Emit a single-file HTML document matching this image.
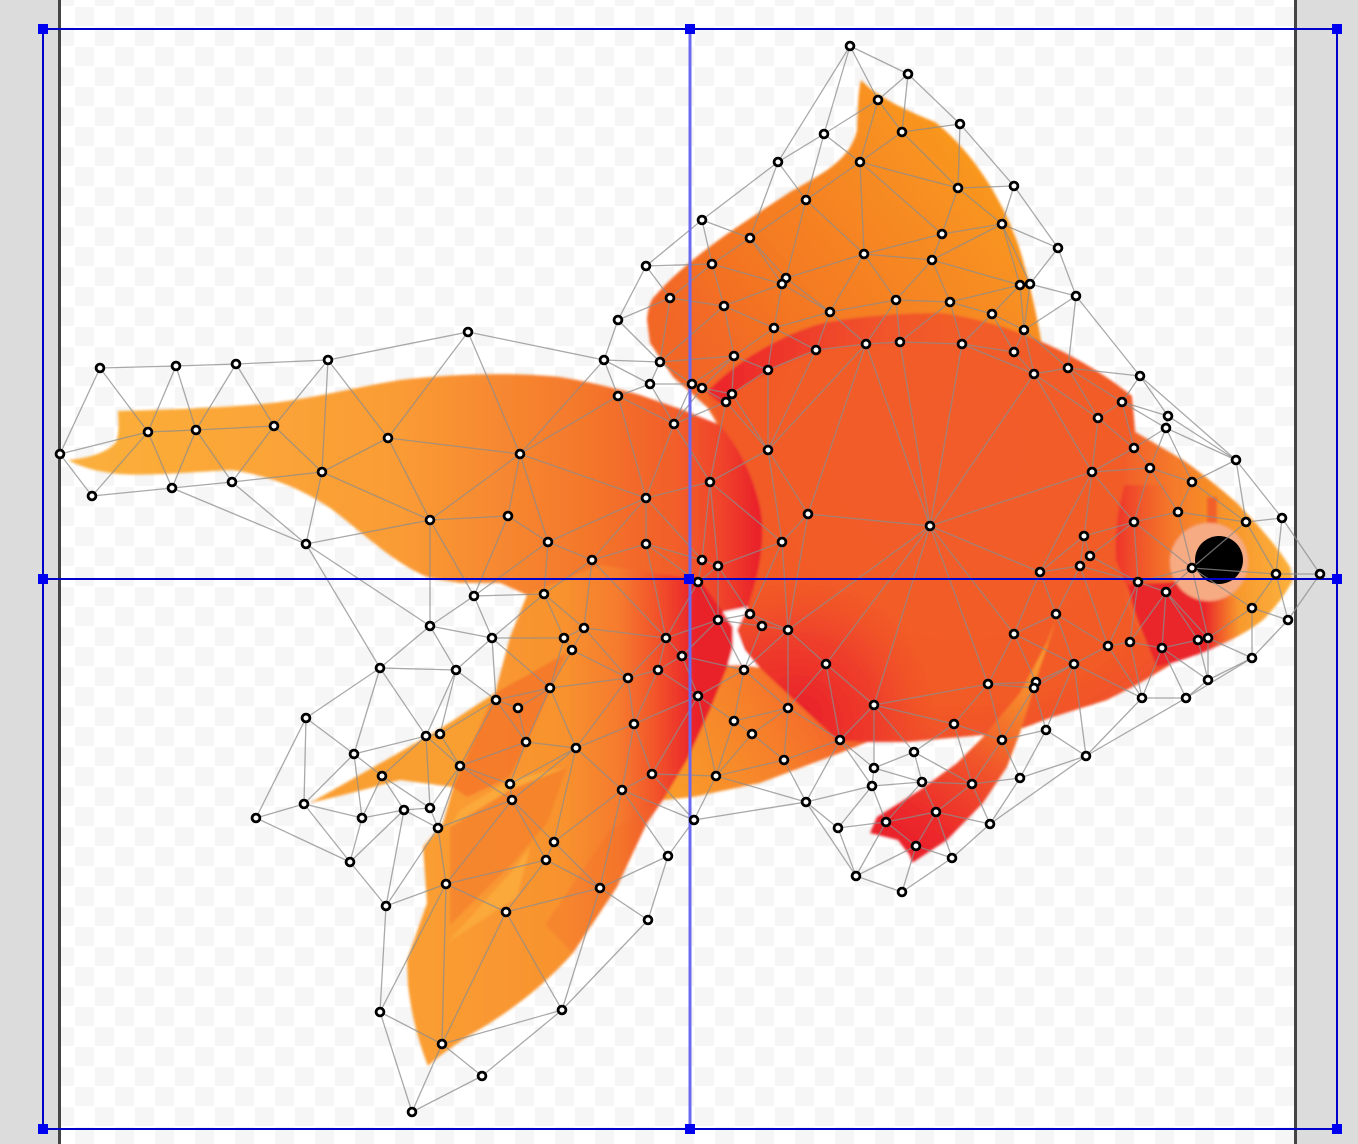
<!DOCTYPE html>
<html>
<head>
<meta charset="utf-8">
<title>Goldfish mesh</title>
<style>
html,body{margin:0;padding:0;background:#dcdcdc;width:1358px;height:1144px;overflow:hidden}
svg{display:block}
</style>
</head>
<body>
<svg id="stage" xmlns="http://www.w3.org/2000/svg" width="1358" height="1144" viewBox="0 0 1358 1144">
<defs>
<pattern id="chk" x="75" y="7" width="40" height="40" patternUnits="userSpaceOnUse">
<rect width="40" height="40" fill="#ffffff"/>
<rect x="0" y="0" width="19" height="19" fill="#f6f6f6"/>
<rect x="20" y="20" width="19" height="19" fill="#f6f6f6"/>
</pattern>
<linearGradient id="tailG" gradientUnits="userSpaceOnUse" x1="100" y1="0" x2="760" y2="0">
<stop offset="0" stop-color="#fbae3a"/><stop offset=".45" stop-color="#fa9c35"/><stop offset=".73" stop-color="#f4782c"/><stop offset=".88" stop-color="#f25c2b"/><stop offset=".94" stop-color="#f0442c"/><stop offset="1" stop-color="#e92029"/>
</linearGradient>
<linearGradient id="topG" gradientUnits="userSpaceOnUse" x1="700" y1="350" x2="960" y2="130">
<stop offset="0" stop-color="#f26626"/><stop offset=".35" stop-color="#f47a22"/><stop offset="1" stop-color="#f9981f"/>
</linearGradient>
<linearGradient id="finG" gradientUnits="userSpaceOnUse" x1="430" y1="0" x2="697" y2="0">
<stop offset="0" stop-color="#fa9d33"/><stop offset=".5" stop-color="#f8922e"/><stop offset=".71" stop-color="#f57a2d"/><stop offset=".85" stop-color="#f2522c"/><stop offset="1" stop-color="#e9202b"/>
</linearGradient>
<linearGradient id="bellyG" gradientUnits="userSpaceOnUse" x1="680" y1="790" x2="860" y2="690">
<stop offset="0" stop-color="#f99a2a"/><stop offset=".5" stop-color="#f67f2a"/><stop offset="1" stop-color="#f2582a"/>
</linearGradient>
<radialGradient id="bodyG" gradientUnits="userSpaceOnUse" cx="960" cy="450" r="340">
<stop offset="0" stop-color="#f25c29"/><stop offset=".75" stop-color="#f25a28"/><stop offset="1" stop-color="#f0452a"/>
</radialGradient>
<linearGradient id="crescentG" gradientUnits="userSpaceOnUse" x1="710" y1="0" x2="960" y2="0">
<stop offset="0" stop-color="#ec242b"/><stop offset=".35" stop-color="#ee3a2b"/><stop offset="1" stop-color="#f15a2a" stop-opacity="0"/>
</linearGradient>
<radialGradient id="bellyRedG" gradientUnits="userSpaceOnUse" cx="800" cy="715" r="135">
<stop offset="0" stop-color="#e9202a"/><stop offset=".55" stop-color="#ec2a2a" stop-opacity=".6"/><stop offset="1" stop-color="#f0402a" stop-opacity="0"/>
</radialGradient>
<linearGradient id="headG" gradientUnits="userSpaceOnUse" x1="1125" y1="0" x2="1290" y2="0">
<stop offset="0" stop-color="#f2602a"/><stop offset=".55" stop-color="#f79028"/><stop offset="1" stop-color="#fbb03b"/>
</linearGradient>
<linearGradient id="gillG" gradientUnits="userSpaceOnUse" x1="1115" y1="0" x2="1172" y2="0">
<stop offset="0" stop-color="#ee332b"/><stop offset="1" stop-color="#f2602a" stop-opacity="0"/>
</linearGradient>
<linearGradient id="gillLowG" gradientUnits="userSpaceOnUse" x1="1205" y1="0" x2="1240" y2="0">
<stop offset="0" stop-color="#ea262b"/><stop offset="1" stop-color="#ee402b" stop-opacity="0"/>
</linearGradient>
<linearGradient id="pecG" gradientUnits="userSpaceOnUse" x1="1050" y1="640" x2="905" y2="850">
<stop offset="0" stop-color="#fba432"/><stop offset=".3" stop-color="#f5802c"/><stop offset=".55" stop-color="#f1552a"/><stop offset=".85" stop-color="#ec2a2c"/><stop offset="1" stop-color="#ea202c"/>
</linearGradient>
<filter id="soft" x="-5%" y="-5%" width="110%" height="110%"><feGaussianBlur stdDeviation="1.2"/></filter>
<clipPath id="bodyClip"><path d="M707 392 C735 362 780 335 823 323 C860 316 900 313 940 313 C1000 320 1075 350 1132 396 L1136 440 L1180 470 L1170 665 L1140 683 L1107 700 L1053 717 L1023 728 L983 735 L907 742 L863 742 L837 740 L762 670 L745 650 L737 630 L748 607 L753 590 C762 560 765 530 760 507 C755 485 745 455 720 425 Z"/></clipPath>
</defs>

<rect width="1358" height="1144" fill="#dcdcdc"/>
<rect x="60" y="0" width="1235" height="1144" fill="url(#chk)"/>
<rect x="58" y="0" width="3" height="1144" fill="#444444"/>
<rect x="1294" y="0" width="3" height="1144" fill="#444444"/>

<g filter="url(#soft)">
<path fill="url(#topG)" d="M718 425 L707 407 L673 377 L650 343 L647 320 C648 308 650 303 653 298 C690 255 745 222 790 192 C825 172 850 160 857 130 C858 108 858 92 861 80 C875 95 900 108 935 122 C965 145 1000 190 1020 250 C1032 290 1040 330 1044 360 L820 440 Z"/>
<path fill="url(#tailG)" d="M68 460 C90 458 108 452 116 442 C120 432 118 420 118 411 C160 410 210 408 250 405 C300 402 350 388 400 380 C450 374 510 372 560 377 C590 382 615 388 640 395 L683 410 L720 425 L790 430 L790 600 L748 607 L723 612 L640 610 L527 595 L500 583 L460 583 L430 578 C395 565 360 530 330 508 C300 488 270 476 232 470 C190 472 130 478 105 472 C90 470 78 465 68 460 Z"/>
<path fill="url(#bellyG)" d="M663 800 L693 797 L760 783 L840 753 L870 741 L840 690 L762 668 L728 663 L690 740 Z"/>
<path fill="#f99f33" d="M310 803 L400 752 L443 727 L495 693 L470 790 L453 787 L400 780 C370 788 340 796 310 803 Z"/>
<path fill="url(#finG)" d="M527 595 L510 637 L495 693 L453 787 L443 823 L423 847 L427 903 L407 960 L408 985 C412 1020 420 1045 428 1066 C440 1055 455 1045 470 1035 C505 1015 540 990 573 953 L617 887 L647 823 L663 800 L687 760 L710 710 L728 665 L733 647 L733 627 L723 612 L700 580 L600 565 Z"/>
<path fill="#f4762c" opacity=".85" d="M495 693 L567 653 L547 697 L527 743 L510 777 L467 797 L453 787 Z"/>
<path fill="#f4792c" opacity=".6" d="M510 790 L567 767 L547 823 L513 863 L450 925 L450 827 Z"/>
<path fill="#fba93a" d="M460 810 L510 780 L567 767 L510 790 L450 827 Z"/>
<path fill="#fba93a" d="M447 943 L513 870 L530 847 L517 897 Z"/>
<path fill="#f16a2c" opacity=".3" d="M573 953 L617 887 L647 823 L663 800 L610 830 L545 925 Z"/>
<path fill="#ffffff" d="M723 612 L748 607 L737 630 L743 650 L753 665 L728 665 L733 647 L733 627 Z"/>
<path fill="url(#bodyG)" d="M707 392 C735 362 780 335 823 323 C860 316 900 313 940 313 C1000 320 1075 350 1132 396 L1136 440 L1180 470 L1170 665 L1140 683 L1107 700 L1053 717 L1023 728 L983 735 L907 742 L863 742 L837 740 L762 670 L745 650 L737 630 L748 607 L753 590 C762 560 765 530 760 507 C755 485 745 455 720 425 Z"/>
<path fill="url(#crescentG)" d="M707 392 C735 362 780 335 823 323 C860 316 900 313 960 314 L960 347 C900 342 860 343 823 350 C790 356 750 380 720 403 Z"/>
<rect x="620" y="530" width="360" height="340" fill="url(#bellyRedG)" clip-path="url(#bodyClip)"/>
<path fill="url(#headG)" d="M1132 430 L1183 460 C1200 472 1220 488 1237 503 C1258 525 1278 547 1290 567 L1293 580 C1285 595 1275 608 1263 620 C1250 630 1238 637 1223 643 C1200 652 1180 660 1157 667 L1125 600 L1125 470 Z"/>
<path fill="url(#gillG)" d="M1116 560 C1115 530 1118 505 1125 485 L1172 485 L1172 600 L1128 590 Z"/>
<path fill="url(#gillLowG)" d="M1128 585 L1200 580 L1240 600 L1240 636 C1212 650 1185 660 1157 667 C1145 640 1132 610 1128 585 Z"/>
<path fill="#f0552a" opacity=".8" d="M1207 497 L1217 497 L1217 523 L1207 523 Z"/>
<path fill="url(#pecG)" d="M1057 617 L1040 667 L1020 733 L1007 767 L983 803 L947 840 L912 863 C910 855 908 852 907 852 L898 840 L870 833 L877 817 L920 790 L957 763 L983 737 L1020 693 L1047 643 Z"/>
<circle cx="1209" cy="562" r="39" fill="#f7ab82"/>
</g>
<circle cx="1219" cy="560" r="24" fill="#000000"/>

<g id="meshEdges" fill="none" stroke="#8c8c8c" stroke-opacity=".75" stroke-width="1.3"></g>

<g>
<line x1="43" y1="29" x2="1337" y2="29" stroke="#0000cc" stroke-width="2"/>
<line x1="43" y1="1129" x2="1337" y2="1129" stroke="#0000cc" stroke-width="2"/>
<line x1="43" y1="29" x2="43" y2="1129" stroke="#0000cc" stroke-width="2"/>
<line x1="1337" y1="29" x2="1337" y2="1129" stroke="#0000cc" stroke-width="2"/>
<line x1="43" y1="579" x2="1337" y2="579" stroke="#0000cc" stroke-width="2"/>
<line x1="690" y1="29" x2="690" y2="1129" stroke="#6a6af0" stroke-width="3"/>
</g>

<g id="meshNodes"></g>

<g fill="#0000f0">
<rect x="38" y="24" width="10" height="10"/>
<rect x="685" y="24" width="10" height="10"/>
<rect x="1332" y="24" width="10" height="10"/>
<rect x="38" y="574" width="10" height="10"/>
<rect x="684" y="574" width="10" height="10"/>
<rect x="1332" y="574" width="10" height="10"/>
<rect x="38" y="1124" width="10" height="10"/>
<rect x="685" y="1124" width="10" height="10"/>
<rect x="1332" y="1124" width="10" height="10"/>
</g>
</svg>

<script>
var nodesX = [850,908,878,960,902,824,860,778,1014,958,806,702,1002,942,750,1058,864,932,712,646,786,782,1020,1030,670,1076,896,950,724,830,992,618,774,1024,866,900,962,816,1014,734,468,328,236,176,100,604,660,768,1068,1034,1140,650,692,702,732,726,618,1122,1098,1168,1166,674,148,196,274,388,1134,768,60,520,1150,1236,322,1092,710,1192,172,232,92,646,1178,808,430,508,1134,1246,1282,930,1084,548,646,782,306,1090,592,702,718,1080,1040,1192,1276,1320,1138,698,474,544,1166,1252,1288,1056,718,750,762,788,430,584,564,492,666,1014,1198,1208,1130,1108,1162,572,682,658,456,380,744,826,1252,1074,628,550,1208,988,1036,1034,496,698,1186,1142,518,306,788,874,634,734,954,426,440,752,1046,526,576,840,1002,354,914,1086,784,460,652,382,716,874,922,972,1020,510,622,872,304,512,806,404,430,362,256,936,694,886,838,990,438,554,916,668,546,350,952,856,446,600,902,386,506,648,380,562,442,482,412];
var nodesY = [46,74,100,124,132,134,162,162,186,188,200,220,224,234,238,248,254,260,264,266,278,284,285,284,298,296,300,302,306,312,314,320,328,330,344,342,344,350,352,356,332,360,364,366,368,360,362,370,368,374,376,384,384,388,394,402,396,402,418,416,428,424,432,430,426,438,448,450,454,454,468,460,472,472,482,482,488,482,496,498,512,514,520,516,522,522,518,526,536,542,544,542,544,556,560,560,566,566,572,568,574,574,582,582,596,594,592,608,620,614,620,614,626,630,626,628,638,638,638,634,640,638,642,646,648,650,656,670,670,668,670,664,658,664,678,688,680,684,682,688,700,696,698,698,708,718,708,705,724,721,724,736,734,734,730,742,748,740,740,754,752,756,760,766,774,776,776,768,782,784,778,784,790,786,804,800,802,810,808,818,818,812,820,822,828,824,828,842,846,856,860,862,858,876,884,888,892,906,912,920,1012,1010,1044,1076,1112];
var maxBoundaryEdge = 148;

var edgeLayer = document.getElementById('meshEdges');
var nodeLayer = document.getElementById('meshNodes');
var SVGNS = 'http://www.w3.org/2000/svg';

function triangulate(xs, ys) {
  var pts = [];
  for (var i = 0; i < xs.length; i++) pts.push([xs[i], ys[i]]);
  var n = pts.length;
  pts.push([-20000, -20000], [20000, -20000], [0, 20000]);
  var tris = [[n, n + 1, n + 2]];
  function inCircle(t, p) {
    var a = pts[t[0]], b = pts[t[1]], c = pts[t[2]];
    var d = 2 * (a[0] * (b[1] - c[1]) + b[0] * (c[1] - a[1]) + c[0] * (a[1] - b[1]));
    if (d === 0) return false;
    var A = a[0] * a[0] + a[1] * a[1], B = b[0] * b[0] + b[1] * b[1], C = c[0] * c[0] + c[1] * c[1];
    var ux = (A * (b[1] - c[1]) + B * (c[1] - a[1]) + C * (a[1] - b[1])) / d;
    var uy = (A * (c[0] - b[0]) + B * (a[0] - c[0]) + C * (b[0] - a[0])) / d;
    var r = (a[0] - ux) * (a[0] - ux) + (a[1] - uy) * (a[1] - uy);
    return (p[0] - ux) * (p[0] - ux) + (p[1] - uy) * (p[1] - uy) < r;
  }
  for (var k = 0; k < n; k++) {
    var bad = [], keep = [];
    tris.forEach(function (t) { (inCircle(t, pts[k]) ? bad : keep).push(t); });
    var count = {};
    bad.forEach(function (t) {
      [[t[0], t[1]], [t[1], t[2]], [t[2], t[0]]].forEach(function (e) {
        var key = Math.min(e[0], e[1]) + '_' + Math.max(e[0], e[1]);
        count[key] = (count[key] || 0) + 1;
      });
    });
    Object.keys(count).forEach(function (key) {
      if (count[key] === 1) {
        var parts = key.split('_');
        keep.push([+parts[0], +parts[1], k]);
      }
    });
    tris = keep;
  }
  return tris.filter(function (t) { return t[0] < n && t[1] < n && t[2] < n; });
}

function edgeKeys(t) {
  return [[t[0], t[1]], [t[1], t[2]], [t[2], t[0]]].map(function (e) {
    return Math.min(e[0], e[1]) + '_' + Math.max(e[0], e[1]);
  });
}

function carveLongBoundaries(tris, xs, ys, limit) {
  var changed = true;
  while (changed) {
    changed = false;
    var count = {};
    tris.forEach(function (t) {
      edgeKeys(t).forEach(function (key) { count[key] = (count[key] || 0) + 1; });
    });
    tris = tris.filter(function (t) {
      var drop = edgeKeys(t).some(function (key) {
        if (count[key] !== 1) return false;
        var p = key.split('_');
        var dx = xs[+p[0]] - xs[+p[1]], dy = ys[+p[0]] - ys[+p[1]];
        return Math.sqrt(dx * dx + dy * dy) > limit;
      });
      if (drop) changed = true;
      return !drop;
    });
  }
  return tris;
}

var meshEdgeSet = {};
carveLongBoundaries(triangulate(nodesX, nodesY), nodesX, nodesY, maxBoundaryEdge).forEach(function (t) {
  edgeKeys(t).forEach(function (key) { meshEdgeSet[key] = true; });
});

Object.keys(meshEdgeSet).forEach(function (key) {
  var p = key.split('_');
  var el = document.createElementNS(SVGNS, 'line');
  el.setAttribute('x1', nodesX[+p[0]]);
  el.setAttribute('y1', nodesY[+p[0]]);
  el.setAttribute('x2', nodesX[+p[1]]);
  el.setAttribute('y2', nodesY[+p[1]]);
  
  
  edgeLayer.appendChild(el);
});

nodesX.forEach(function (x, i) {
  var c = document.createElementNS(SVGNS, 'circle');
  c.setAttribute('cx', x);
  c.setAttribute('cy', nodesY[i]);
  c.setAttribute('r', '3.9');
  c.setAttribute('fill', '#ffffff');
  c.setAttribute('stroke', '#000000');
  c.setAttribute('stroke-width', '2.8');
  
  
  nodeLayer.appendChild(c);
});
</script>
</body>
</html>
